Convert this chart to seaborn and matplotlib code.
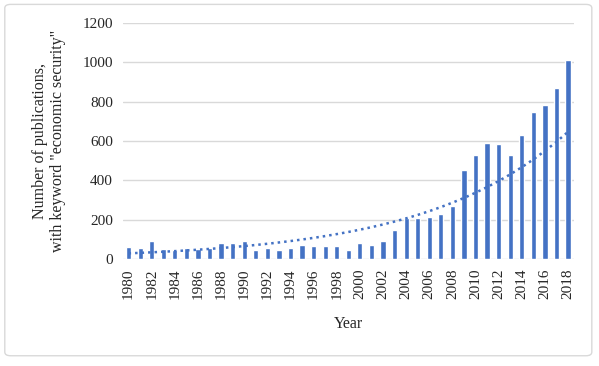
import matplotlib.pyplot as plt
import numpy as np
import pandas as pd
import seaborn as sns
from matplotlib.patches import FancyBboxPatch

# data
years = list(range(1980, 2019))
counts = [61, 56, 92, 51, 46, 58, 51, 58, 80, 82,
          90, 46, 56, 46, 56, 70, 66, 66, 67, 44,
          80, 70, 93, 148, 211, 207, 216, 228, 272, 455,
          527, 590, 583, 527, 630, 748, 783, 870, 1011]

df = pd.DataFrame({"year": [str(y) for y in years], "count": counts})

sns.set_style("white")
plt.rcParams['font.family'] = ['Liberation Serif', 'DejaVu Serif']

fig = plt.figure(figsize=(5.99, 3.66), dpi=100)
ax = fig.add_axes([0.205, 0.292, 0.753, 0.645])

sns.barplot(data=df, x="year", y="count", color="#4472C4", width=0.45,
            saturation=1, ax=ax)

# exponential trend line (like Excel's)
pos = np.arange(len(years))
b, a = np.polyfit(pos + 1, np.log(counts), 1)
ax.plot(pos, np.exp(a + b * (pos + 1)), linestyle=(0, (1, 1.6)), color="#4472C4",
        linewidth=1.8)

ax.set_ylim(0, 1200)
ax.set_xlim(-0.5, len(years) - 0.5)
ax.set_yticks(range(0, 1201, 200))
ax.yaxis.grid(True, color="#d9d9d9", linewidth=1)
ax.set_axisbelow(True)
ax.set_xticks(pos[::2])
ax.set_xticklabels([str(y) for y in years[::2]], rotation=90)
ax.tick_params(axis="both", length=0, labelsize=11, pad=7)
for s in ax.spines.values():
    s.set_visible(False)

ax.set_xlabel("Year", fontsize=11.5, labelpad=12)
ax.set_ylabel('Number of publications,\nwith keyword "economic security"', fontsize=11.5,
              labelpad=12)

# outer border
fig.patches.append(FancyBboxPatch((0.008, 0.028), 0.98, 0.96,
                                  boxstyle="round,pad=0,rounding_size=0.01",
                                  transform=fig.transFigure, fill=False,
                                  edgecolor="#d9d9d9", linewidth=1))

fig.savefig("out.png", dpi=100)
